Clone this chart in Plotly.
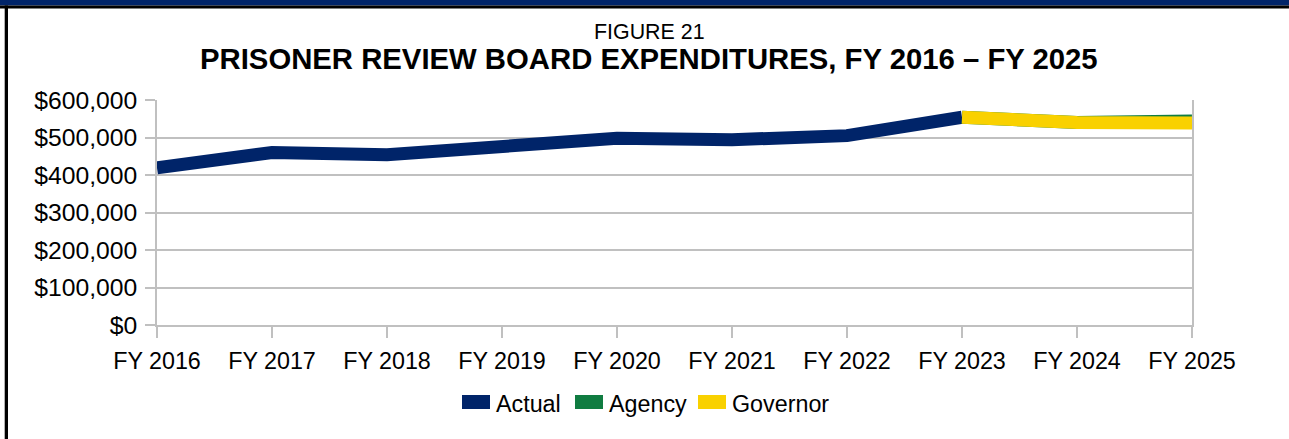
import plotly.graph_objects as go

years = ["FY 2016", "FY 2017", "FY 2018", "FY 2019", "FY 2020",
         "FY 2021", "FY 2022", "FY 2023", "FY 2024", "FY 2025"]
actual = [419000, 460000, 454000, 473000, 498000, 494000, 505000, 554000, None, None]
agency = [None, None, None, None, None, None, None, 554000, 540000, 544000]
governor = [None, None, None, None, None, None, None, 554000, 540000, 539000]

series_names = ["Actual", "Agency", "Governor"]
series_colors = ["#002469", "#107C41", "#F9D100"]
series_values = [actual, agency, governor]

W, H = 1289, 439
ML, MR, MT, MB = 157, 97, 100, 114
PW, PH = W - ML - MR, H - MT - MB

def px(x):
    return (x - ML) / PW

def py(y):
    return 1 - (y - MT) / PH

FONT = "Liberation Sans, Arial, sans-serif"

fig = go.Figure()
for name, color, vals in zip(series_names, series_colors, series_values):
    fig.add_trace(go.Scatter(
        x=years, y=vals, mode="lines", name=name,
        line=dict(color=color, width=13),
        connectgaps=False, showlegend=False, hoverinfo="x+y",
    ))

shapes = []
# top navy bar and black rule
shapes.append(dict(type="rect", xref="paper", yref="paper",
                   x0=px(0), x1=px(W), y0=py(0), y1=py(5.5),
                   fillcolor="#002469", line=dict(width=0), layer="above"))
shapes.append(dict(type="rect", xref="paper", yref="paper",
                   x0=px(0), x1=px(W), y0=py(5.5), y1=py(8.5),
                   fillcolor="#000000", line=dict(width=0), layer="above"))
# left black border
shapes.append(dict(type="rect", xref="paper", yref="paper",
                   x0=px(4.7), x1=px(8), y0=py(5.5), y1=py(H),
                   fillcolor="#000000", line=dict(width=0), layer="above"))

annotations = [
    dict(text="FIGURE 21", xref="paper", yref="paper", x=px(649), y=py(32),
         xanchor="center", yanchor="middle", showarrow=False,
         font=dict(family=FONT, size=21.4, color="#000")),
    dict(text="<b>PRISONER REVIEW BOARD EXPENDITURES, FY 2016 \u2013 FY 2025</b>",
         xref="paper", yref="paper", x=px(649), y=py(59),
         xanchor="center", yanchor="middle", showarrow=False,
         font=dict(family=FONT, size=29.3, color="#000")),
]

# custom legend (rectangle swatches)
sw_x = [462, 575, 698]
for name, color, x0 in zip(series_names, series_colors, sw_x):
    shapes.append(dict(type="rect", xref="paper", yref="paper",
                       x0=px(x0), x1=px(x0 + 28), y0=py(409), y1=py(395),
                       fillcolor=color, line=dict(width=0)))
    annotations.append(dict(text=name, xref="paper", yref="paper",
                            x=px(x0 + 32), y=py(404), xanchor="left", yanchor="middle",
                            showarrow=False, font=dict(family=FONT, size=23.3, color="#000")))

fig.update_layout(
    width=W, height=H,
    margin=dict(l=ML, r=MR, t=MT, b=MB, pad=0),
    paper_bgcolor="white", plot_bgcolor="white",
    font=dict(family=FONT, size=23, color="#000"),
    shapes=shapes, annotations=annotations,
    showlegend=False,
    xaxis=dict(type="category", range=[0, 9], showgrid=False,
               showline=True, linecolor="#c0c0c0", linewidth=1.5,
               ticks="outside", ticklen=11, tickcolor="#c0c0c0", tickwidth=1.5,
               ticklabelstandoff=3,
               tickfont=dict(family=FONT, size=23.3, color="#000"),
               fixedrange=True),
    yaxis=dict(range=[0, 600000], dtick=100000, tickprefix="$", tickformat=",",
               showgrid=True, gridcolor="#c0c0c0", gridwidth=1.5,
               showline=True, linecolor="#c0c0c0", linewidth=1.5, mirror=True,
               ticks="outside", ticklen=10, tickcolor="#c0c0c0", tickwidth=1.5,
               ticklabelstandoff=3,
               tickfont=dict(family=FONT, size=24.7, color="#000"),
               zeroline=False, fixedrange=True),
)

fig.write_html("out.html",
               config={"displayModeBar": False},
               post_script="document.body.style.margin='0';document.body.style.overflow='hidden';")
